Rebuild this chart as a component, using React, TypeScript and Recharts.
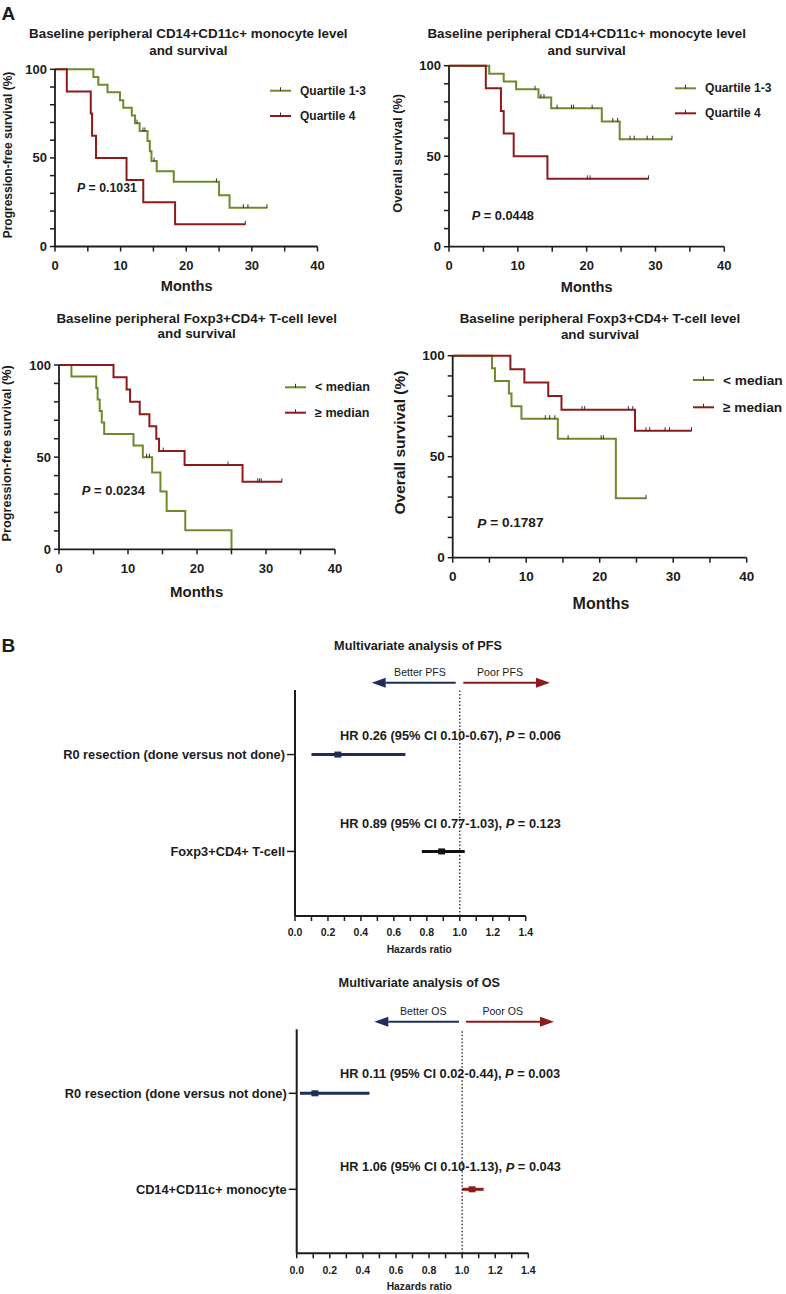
import React from 'react';
import { ComposedChart, Line, Scatter, XAxis, YAxis, ReferenceLine } from 'recharts';

const FONT = '"Liberation Sans", Arial, Helvetica, sans-serif';
const GREEN = '#6e8a2b';
const RED = '#8c1c1c';
const NAVY = '#1f2d5a';
const INK = '#1c1c1c';

// ---------- axis ticks ----------
const monthTicks = [0, 5, 10, 15, 20, 25, 30, 35, 40];
const monthLabels = [0, 10, 20, 30, 40];
const survivalTicks = [0, 10, 20, 30, 40, 50, 60, 70, 80, 90, 100];
const survivalLabels = [0, 50, 100];
const hrTicks = [0, 0.1, 0.2, 0.3, 0.4, 0.5, 0.6, 0.7, 0.8, 0.9, 1.0, 1.1, 1.2, 1.3, 1.4];
const hrLabels = [0, 0.2, 0.4, 0.6, 0.8, 1.0, 1.2, 1.4];

// ---------- Panel A: PFS by CD14+CD11c+ monocyte ----------
const pfsMonoQ13: [number, number][] = [
  [0, 100], [5.85, 95.7], [6.6, 91.3], [8.0, 87.0], [9.9, 82.6], [10.4, 78.3], [11.7, 73.9],
  [12.2, 69.6], [12.9, 65.2], [14.1, 59.5], [14.45, 53.8], [14.7, 48.2], [15.5, 42.4],
  [18.1, 36.5], [25.0, 28.9], [26.6, 21.9], [32.3, 21.9],
];
const pfsMonoQ13Cens: [number, number][] = [
  [12.5, 69.6], [13.4, 65.2], [13.7, 65.2], [15.1, 48.2], [24.6, 36.5], [28.7, 21.9], [29.4, 21.9], [32.3, 21.9],
];
const pfsMonoQ4: [number, number][] = [
  [0, 100], [1.8, 87.5], [5.45, 75], [5.65, 62.5], [6.25, 50], [10.9, 37.5], [13.45, 25], [18.3, 12.5], [29.0, 12.5],
];
const pfsMonoQ4Cens: [number, number][] = [[29.0, 12.5]];

// ---------- Panel A: OS by CD14+CD11c+ monocyte ----------
const osMonoQ13: [number, number][] = [
  [0, 100], [5.85, 95.6], [7.95, 91.3], [9.75, 87.0], [13.0, 82.4], [14.85, 76.5], [22.2, 69.2], [24.8, 59.4], [32.4, 59.4],
];
const osMonoQ13Cens: [number, number][] = [
  [12.5, 87.0], [13.35, 82.4], [13.8, 82.4], [15.7, 76.5], [17.8, 76.5], [18.1, 76.5], [20.8, 76.5],
  [23.8, 69.2], [24.5, 69.2], [26.3, 59.4], [26.9, 59.4], [28.8, 59.4], [29.6, 59.4], [32.4, 59.4],
];
const osMonoQ4: [number, number][] = [
  [0, 100], [5.35, 87.5], [7.55, 75], [7.95, 62.5], [9.4, 50], [14.3, 37.5], [29.0, 37.5],
];
const osMonoQ4Cens: [number, number][] = [[20.1, 37.5], [20.5, 37.5], [29.0, 37.5]];

// ---------- Panel A: PFS by Foxp3+CD4+ T-cell ----------
const pfsTregLow: [number, number][] = [
  [0, 100], [1.8, 93.8], [5.4, 87.5], [5.6, 81.3], [5.9, 75], [6.2, 68.8], [6.55, 62.5], [10.8, 56.3],
  [12.15, 50], [13.5, 41.7], [14.7, 31.3], [15.6, 20.8], [18.3, 10.4], [25.0, 0],
];
const pfsTregLowCens: [number, number][] = [[12.7, 50], [13.1, 50]];
const pfsTregHigh: [number, number][] = [
  [0, 100], [7.9, 93.3], [9.8, 86.7], [10.3, 80], [11.7, 73.3], [13.1, 66.7], [14.1, 60], [14.5, 53.3],
  [18.2, 45.7], [26.6, 36.6], [32.3, 36.6],
];
const pfsTregHighCens: [number, number][] = [
  [15.1, 53.3], [24.5, 45.7], [28.8, 36.6], [29.05, 36.6], [29.3, 36.6], [32.3, 36.6],
];

// ---------- Panel A: OS by Foxp3+CD4+ T-cell ----------
const osTregLow: [number, number][] = [
  [0, 100], [5.35, 93.8], [5.75, 87.5], [7.65, 81.3], [8.0, 75], [9.35, 68.8], [14.3, 58.9], [22.2, 29.4], [26.3, 29.4],
];
const osTregLowCens: [number, number][] = [
  [12.6, 68.8], [13.2, 68.8], [13.9, 68.8], [15.7, 58.9], [20.2, 58.9], [20.5, 58.9], [26.3, 29.4],
];
const osTregHigh: [number, number][] = [
  [0, 100], [7.85, 93.3], [9.75, 86.7], [13.0, 80], [14.8, 73.3], [24.8, 62.9], [32.5, 62.9],
];
const osTregHighCens: [number, number][] = [
  [17.6, 73.3], [17.95, 73.3], [23.9, 73.3], [24.5, 73.3], [26.3, 62.9], [26.8, 62.9], [28.9, 62.9], [29.5, 62.9], [32.5, 62.9],
];

// ---------- Panel B: forest plots ----------
const pfsVars = ['R0 resection (done versus not done)', 'Foxp3+CD4+ T-cell'];
const pfsHR = [0.26, 0.89];
const pfsLow = [0.10, 0.77];
const pfsHigh = [0.67, 1.03];
const pfsText = ['HR 0.26 (95% CI 0.10-0.67), ', 'HR 0.89 (95% CI 0.77-1.03), '];
const pfsP = ['0.006', '0.123'];

const osVars = ['R0 resection (done versus not done)', 'CD14+CD11c+ monocyte'];
const osHR = [0.11, 1.06];
const osLow = [0.02, 1.00];
const osHigh = [0.44, 1.13];
const osText = ['HR 0.11 (95% CI 0.02-0.44), ', 'HR 1.06 (95% CI 0.10-1.13), '];
const osP = ['0.003', '0.043'];

const rowPos = [5, 2];

const toPts = (a: [number, number][]) => a.map(([t, s]) => ({ t, s }));
const near = (arr: number[], v: number) => arr.some((a) => Math.abs(a - v) < 1e-6);

const CensorTick = (props: any) => {
  const { cx, cy } = props;
  if (cx == null || cy == null) return null;
  return <line x1={cx} x2={cx} y1={cy - 3.5} y2={cy + 0.5} stroke="#333" strokeWidth={1} />;
};

// plain (non-wrapping) tick label renderers
const makeXTick = (fs: number, fmt: (v: number) => string) => (p: any) => (
  <text x={p.x} y={p.y} dy="0.71em" textAnchor="middle" fontSize={fs} fontWeight="bold" fontFamily={FONT} fill={INK}>
    {fmt(p.payload.value)}
  </text>
);
const makeYTick = (fs: number, fmt: (v: number) => string) => (p: any) => (
  <text x={p.x} y={p.y} textAnchor="end" dominantBaseline="central" fontSize={fs} fontWeight="bold" fontFamily={FONT} fill={INK}>
    {fmt(p.payload.value)}
  </text>
);

type Series = { line: [number, number][]; cens: [number, number][]; color: string };

// plot area given as [left, top, right, bottom] in chart-local pixels; axes take 1px each
function KMPanel({ box, plot, series, fs }: { box: number[]; plot: number[]; series: Series[]; fs: number }) {
  const [l, t, w, h] = box;
  const margin = { left: plot[0] - 1, top: plot[1], right: w - plot[2], bottom: h - plot[3] - 1 };
  return (
    <div style={{ position: 'absolute', left: l, top: t, width: w, height: h }}>
      <ComposedChart width={w} height={h} margin={margin}>
        <XAxis
          type="number"
          dataKey="t"
          domain={[0, 40]}
          ticks={monthTicks}
          interval={0}
          height={1}
          tickSize={5}
          tickMargin={9}
          axisLine={{ stroke: INK, strokeWidth: 1.8 }}
          tickLine={{ stroke: INK, strokeWidth: 1.5 }}
          tick={makeXTick(fs, (v) => (near(monthLabels, v) ? String(v) : ''))}
        />
        <YAxis
          type="number"
          dataKey="s"
          domain={[0, 100]}
          ticks={survivalTicks}
          interval={0}
          width={1}
          tickSize={5}
          tickMargin={3}
          axisLine={{ stroke: INK, strokeWidth: 1.8 }}
          tickLine={{ stroke: INK, strokeWidth: 1.5 }}
          tick={makeYTick(fs, (v) => (near(survivalLabels, v) ? String(v) : ''))}
        />
        {series.map((s, i) => (
          <Line
            key={'l' + i}
            data={toPts(s.line)}
            dataKey="s"
            type="stepAfter"
            stroke={s.color}
            strokeWidth={2}
            dot={false}
            activeDot={false}
            isAnimationActive={false}
          />
        ))}
        {series.map((s, i) => (
          <Scatter key={'c' + i} data={toPts(s.cens)} shape={CensorTick} isAnimationActive={false} />
        ))}
      </ComposedChart>
    </div>
  );
}

function ForestPanel({ box, plot, names, hr, lo, hi, colors }: any) {
  const [l, t, w, h] = box;
  const margin = { left: plot[0] - 1, top: plot[1], right: w - plot[2], bottom: h - plot[3] - 1 };
  const Square = (color: string) => (p: any) =>
    p.cx == null ? null : <rect x={p.cx - 3.5} y={p.cy - 3} width={7} height={6} fill={color} />;
  return (
    <div style={{ position: 'absolute', left: l, top: t, width: w, height: h }}>
      <ComposedChart width={w} height={h} margin={margin}>
        <XAxis
          type="number"
          dataKey="x"
          domain={[0, 1.4]}
          ticks={hrTicks}
          interval={0}
          height={1}
          tickSize={5}
          tickMargin={8}
          axisLine={{ stroke: INK, strokeWidth: 2 }}
          tickLine={{ stroke: INK, strokeWidth: 1.5 }}
          tick={makeXTick(10.5, (v) => (near(hrLabels, v) ? v.toFixed(1) : ''))}
        />
        <YAxis
          type="number"
          dataKey="y"
          domain={[0, 7]}
          ticks={rowPos}
          interval={0}
          width={1}
          tickSize={8}
          tickMargin={2}
          axisLine={{ stroke: INK, strokeWidth: 2 }}
          tickLine={{ stroke: INK, strokeWidth: 1.5 }}
          tick={makeYTick(12.8, (v) => names[rowPos.indexOf(v)] ?? '')}
        />
        <ReferenceLine x={1} stroke="#111" strokeWidth={1.2} strokeDasharray="1.5 2" />
        {rowPos.map((y, i) => (
          <ReferenceLine
            key={'ci' + i}
            segment={[{ x: lo[i], y }, { x: hi[i], y }]}
            stroke={colors[i]}
            strokeWidth={3}
          />
        ))}
        {rowPos.map((y, i) => (
          <Scatter key={'pt' + i} data={[{ x: hr[i], y }]} shape={Square(colors[i])} isAnimationActive={false} />
        ))}
      </ComposedChart>
    </div>
  );
}

const T = ({ x, y, size, anchor = 'start', weight = 'bold', rotate, children }: any) => (
  <text
    x={x}
    y={y}
    fontSize={size}
    fontWeight={weight}
    fontFamily={FONT}
    fill={INK}
    textAnchor={anchor}
    dominantBaseline="central"
    transform={rotate ? `rotate(${rotate} ${x} ${y})` : undefined}
  >
    {children}
  </text>
);

const LegendItem = ({ x, y, color, label, size }: any) => (
  <g>
    <line x1={x} x2={x + 21} y1={y} y2={y} stroke={color} strokeWidth={2} />
    <line x1={x + 10.5} x2={x + 10.5} y1={y - 3.5} y2={y + 0.5} stroke="#333" strokeWidth={1} />
    <T x={x + 30} y={y} size={size}>{label}</T>
  </g>
);

const PText = ({ x, y, size, value }: any) => (
  <text x={x} y={y} fontSize={size} fontWeight="bold" fontFamily={FONT} fill={INK} dominantBaseline="central">
    <tspan fontStyle="italic">P</tspan> = {value}
  </text>
);

const Arrow = ({ x1, x2, y, color }: any) => {
  const dir = x2 > x1 ? 1 : -1;
  const base = x2 - dir * 14;
  return (
    <g>
      <line x1={x1} x2={base} y1={y} y2={y} stroke={color} strokeWidth={2} />
      <polygon points={`${x2},${y} ${base},${y - 5} ${base},${y + 5}`} fill={color} />
    </g>
  );
};

const HRText = ({ x, y, text, p }: any) => (
  <text x={x} y={y} fontSize={12.8} fontWeight="bold" fontFamily={FONT} fill={INK} dominantBaseline="central">
    {text}
    <tspan fontStyle="italic">P</tspan> = {p}
  </text>
);

export default function App() {
  return (
    <div style={{ position: 'absolute', left: 0, top: 0, width: 786, height: 1294, background: '#fff', overflow: 'hidden' }}>
      <KMPanel
        box={[0, 0, 390, 300]}
        plot={[55, 69.3, 317.5, 246.5]}
        fs={13}
        series={[
          { line: pfsMonoQ13, cens: pfsMonoQ13Cens, color: GREEN },
          { line: pfsMonoQ4, cens: pfsMonoQ4Cens, color: RED },
        ]}
      />
      <KMPanel
        box={[390, 0, 396, 300]}
        plot={[59, 65.7, 334.3, 246.7]}
        fs={13}
        series={[
          { line: osMonoQ13, cens: osMonoQ13Cens, color: GREEN },
          { line: osMonoQ4, cens: osMonoQ4Cens, color: RED },
        ]}
      />
      <KMPanel
        box={[0, 300, 390, 320]}
        plot={[59, 65, 335, 249.3]}
        fs={13}
        series={[
          { line: pfsTregLow, cens: pfsTregLowCens, color: GREEN },
          { line: pfsTregHigh, cens: pfsTregHighCens, color: RED },
        ]}
      />
      <KMPanel
        box={[390, 300, 396, 320]}
        plot={[62.7, 55.7, 356.7, 257.7]}
        fs={13.5}
        series={[
          { line: osTregLow, cens: osTregLowCens, color: GREEN },
          { line: osTregHigh, cens: osTregHighCens, color: RED },
        ]}
      />
      <ForestPanel
        box={[0, 640, 786, 320]}
        plot={[295, 50, 525.7, 276]}
        names={pfsVars}
        hr={pfsHR}
        lo={pfsLow}
        hi={pfsHigh}
        colors={[NAVY, '#111']}
      />
      <ForestPanel
        box={[0, 960, 786, 334]}
        plot={[296.7, 69.3, 528.3, 293.3]}
        names={osVars}
        hr={osHR}
        lo={osLow}
        hi={osHigh}
        colors={[NAVY, RED]}
      />
      <svg width={786} height={1294} style={{ position: 'absolute', left: 0, top: 0, pointerEvents: 'none' }}>
        <T x={1.5} y={13.5} size={19}>A</T>
        <T x={1.5} y={645} size={19}>B</T>

        {/* Panel 1 */}
        <T x={188.3} y={33.7} size={13.4} anchor="middle">Baseline peripheral CD14+CD11c+ monocyte level</T>
        <T x={188.3} y={50} size={13.4} anchor="middle">and survival</T>
        <T x={7.5} y={155} size={12} anchor="middle" rotate={-90}>Progression-free survival (%)</T>
        <T x={186.7} y={285.8} size={14.6} anchor="middle">Months</T>
        <LegendItem x={270} y={90.7} color={GREEN} label="Quartile 1-3" size={12} />
        <LegendItem x={270} y={116} color={RED} label="Quartile 4" size={12} />
        <PText x={77} y={188.3} size={12.3} value="0.1031" />

        {/* Panel 2 */}
        <T x={586.7} y={33.3} size={13.4} anchor="middle">Baseline peripheral CD14+CD11c+ monocyte level</T>
        <T x={586.7} y={50} size={13.4} anchor="middle">and survival</T>
        <T x={398} y={153.3} size={12.8} anchor="middle" rotate={-90}>Overall survival (%)</T>
        <T x={586.7} y={286.7} size={14.6} anchor="middle">Months</T>
        <LegendItem x={675} y={88.3} color={GREEN} label="Quartile 1-3" size={12.1} />
        <LegendItem x={675} y={113.3} color={RED} label="Quartile 4" size={12.1} />
        <PText x={471.7} y={215} size={12.8} value="0.0448" />

        {/* Panel 3 */}
        <T x={196.7} y={318.3} size={13.4} anchor="middle">Baseline peripheral Foxp3+CD4+ T-cell level</T>
        <T x={196.7} y={333.7} size={13.4} anchor="middle">and survival</T>
        <T x={7.5} y={453.3} size={12.7} anchor="middle" rotate={-90}>Progression-free survival (%)</T>
        <T x={196.7} y={591} size={15} anchor="middle">Months</T>
        <LegendItem x={285} y={387.3} color={GREEN} label="< median" size={12.6} />
        <LegendItem x={285} y={412.7} color={RED} label="≥ median" size={12.6} />
        <PText x={81.7} y={490} size={13} value="0.0234" />

        {/* Panel 4 */}
        <T x={600} y={318.3} size={13.4} anchor="middle">Baseline peripheral Foxp3+CD4+ T-cell level</T>
        <T x={600} y={334.3} size={13.4} anchor="middle">and survival</T>
        <T x={399} y={442.5} size={15.5} anchor="middle" rotate={-90}>Overall survival (%)</T>
        <T x={601} y={603.3} size={16} anchor="middle">Months</T>
        <LegendItem x={693} y={380} color={GREEN} label="< median" size={13.7} />
        <LegendItem x={693} y={407.3} color={RED} label="≥ median" size={13.7} />
        <PText x={477.3} y={522.7} size={13.6} value="0.1787" />

        {/* Forest PFS */}
        <T x={418} y={646} size={12.7} anchor="middle">Multivariate analysis of PFS</T>
        <T x={420} y={672.3} size={10.6} anchor="middle" weight="normal">Better PFS</T>
        <T x={500} y={672.3} size={10.6} anchor="middle" weight="normal">Poor PFS</T>
        <Arrow x1={455.7} x2={371.7} y={682.7} color={NAVY} />
        <Arrow x1={463.3} x2={550} y={682.7} color={RED} />
        <HRText x={340} y={735} text={pfsText[0]} p={pfsP[0]} />
        <HRText x={340} y={823.3} text={pfsText[1]} p={pfsP[1]} />
        <T x={419.3} y={949.3} size={10.3} anchor="middle">Hazards ratio</T>

        {/* Forest OS */}
        <T x={419.3} y={983.3} size={12.7} anchor="middle">Multivariate analysis of OS</T>
        <T x={423.3} y={1011} size={10.6} anchor="middle" weight="normal">Better OS</T>
        <T x={502.7} y={1011} size={10.6} anchor="middle" weight="normal">Poor OS</T>
        <Arrow x1={459} x2={374.3} y={1021.7} color={NAVY} />
        <Arrow x1={466} x2={554} y={1021.7} color={RED} />
        <HRText x={340} y={1073.3} text={osText[0]} p={osP[0]} />
        <HRText x={340} y={1166.7} text={osText[1]} p={osP[1]} />
        <T x={419.3} y={1286.7} size={10.3} anchor="middle">Hazards ratio</T>
      </svg>
    </div>
  );
}
